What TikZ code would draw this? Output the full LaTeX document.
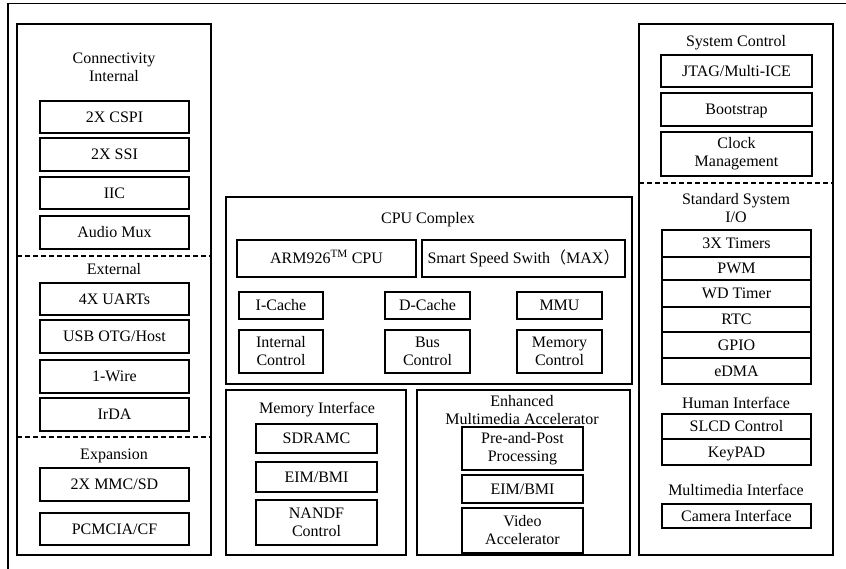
\documentclass[tikz,border=0pt]{standalone}
\usepackage{fontspec}
\setmainfont{Liberation Serif}
\newfontfamily\cjkparen{Noto Sans CJK SC}
\newcommand\dgfont{\fontsize{16}{18}\selectfont}
% \bx[style]{name}{x1}{y1}{x2}{y2}{text}
\newcommand\bx[7][box]{%
  \node[#1, minimum width={(#5-#3)*1pt}, minimum height={(#6-#4)*1pt}]
    (#2) at ({(#3+#5)/2},{(#4+#6)/2}) {#7};}
\begin{document}
\begin{tikzpicture}[x=1pt,y=-1pt,
 base/.style={draw, line width=1.2pt, inner sep=0pt, outer sep=0pt, align=center, font=\dgfont},
 box/.style={base, text height=10.8pt, text depth=0pt},
 box2/.style={base, execute at begin node={\rule{0pt}{14.5pt}}},
 panel/.style={draw, line width=1.2pt, inner sep=0pt, outer sep=0pt},
 lbl/.style={inner sep=0pt, align=center, font=\dgfont},
 lbl1/.style={lbl, text height=10.8pt, text depth=0pt},
 sep/.style={line width=1.2pt, dash pattern=on 5pt off 3pt}]
\useasboundingbox (0,0) rectangle (846,569);
% outer frame (cropped)
\coordinate (fbl) at (8,569);
\coordinate (ftl) at (8,3.5);
\coordinate (ftr) at (846,3.5);
\draw[line width=1.2pt] (fbl) -- (ftl) -- (ftr);

% ---------- left panel ----------
\bx[panel]{lp}{17}{24}{211}{555}{}
\node[lbl] (connT) at (114,67) {Connectivity\\Internal};
\bx{cspi}{40}{101}{189}{133}{2X CSPI}
\bx{ssi}{40}{138}{189}{171}{2X SSI}
\bx{iic}{40}{177}{189}{209}{IIC}
\bx{amux}{40}{216}{189}{249}{Audio Mux}
\draw[sep] (lp.west |- 0,256) -- (lp.east |- 0,256);
\node[lbl1] (extT) at (114,269) {External};
\bx{uart}{40}{283}{189}{315}{4X UARTs}
\bx{usb}{40}{320}{189}{353}{USB OTG/Host}
\bx{wire}{40}{360}{189}{393}{1-Wire}
\bx{irda}{40}{398}{189}{431}{IrDA}
\draw[sep] (lp.west |- 0,437) -- (lp.east |- 0,437);
\node[lbl1] (expT) at (114,454) {Expansion};
\bx{mmc}{40}{468}{189}{501}{2X MMC/SD}
\bx{pcm}{40}{513}{189}{545}{PCMCIA/CF}

% ---------- CPU complex ----------
\bx[panel]{cpu}{226}{197}{632}{384}{}
\node[lbl1] (cpuT) at (428,218) {CPU Complex};
\bx{arm}{237}{240}{416}{277}{ARM926\textsuperscript{TM} CPU}
\bx{sss}{422}{240}{625}{277}{Smart Speed Swith{\cjkparen （}MAX{\cjkparen ）}}
\bx{icache}{239}{292}{323}{319}{I-Cache}
\bx{dcache}{385}{292}{470}{319}{D-Cache}
\bx{mmu}{517}{292}{602}{319}{MMU}
\bx[box2]{intc}{239}{330}{323}{373}{Internal\\Control}
\bx[box2]{busc}{385}{330}{470}{373}{Bus\\Control}
\bx[box2]{memc}{517}{330}{602}{373}{Memory\\Control}

% ---------- memory interface ----------
\bx[panel]{mem}{226}{390}{406}{555}{}
\node[lbl1] (memT) at (317,408) {Memory Interface};
\bx{sdram}{256}{424}{377}{453}{SDRAMC}
\bx{eim1}{256}{462}{377}{492}{EIM/BMI}
\bx[box2]{nand}{256}{500}{377}{545}{NANDF\\Control}

% ---------- EMMA ----------
\bx[panel]{ema}{417}{390}{630}{555}{}
\node[lbl] (emaT) at (522,410) {Enhanced\\Multimedia Accelerator};
\bx[box2]{ppp}{462}{427}{583}{470}{Pre-and-Post\\Processing}
\bx{eim2}{462}{475}{583}{503}{EIM/BMI}
\bx[box2]{vacc}{462}{508}{583}{553}{Video\\Accelerator}

% ---------- right panel ----------
\bx[panel]{rp}{639}{24}{833}{555}{}
\node[lbl1] (sysT) at (736,41) {System Control};
\bx{jtag}{661}{55}{812}{87}{JTAG/Multi-ICE}
\bx{boot}{661}{93}{812}{126}{Bootstrap}
\bx[box2]{clk}{661}{132}{812}{176}{Clock\\Management}
\draw[sep] (rp.west |- 0,183) -- (rp.east |- 0,183);
\node[lbl] (stdT) at (736,208) {Standard System\\I/O};
\bx{tim}{662}{230}{811}{257}{3X Timers}
\bx{pwm}{662}{257}{811}{280}{PWM}
\bx{wdt}{662}{280}{811}{307}{WD Timer}
\bx{rtc}{662}{307}{811}{332}{RTC}
\bx{gpio}{662}{332}{811}{358}{GPIO}
\bx{edma}{662}{358}{811}{384}{eDMA}
\node[lbl1] (humT) at (736,403) {Human Interface};
\bx{slcd}{662}{414}{811}{439}{SLCD Control}
\bx{key}{662}{439}{811}{465}{KeyPAD}
\node[lbl1] (mmT) at (736,490) {Multimedia Interface};
\bx{cam}{662}{504}{811}{528}{Camera Interface}
\end{tikzpicture}
\end{document}
